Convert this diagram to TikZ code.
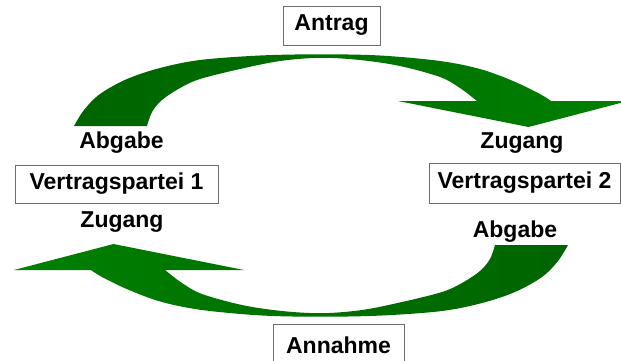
\documentclass[tikz,border=0pt]{standalone}
\usepackage{fontspec}
\setmainfont{Liberation Sans}
\definecolor{arrowdark}{RGB}{0,100,0}
\definecolor{arrowlight}{RGB}{0,128,0}
\definecolor{boxline}{RGB}{110,110,110}

% Curved block arrow (upper one); the lower arrow is the same outline turned by 180 degrees
\newcommand\curvedarrowpath{%
  plot[smooth, tension=0.55] coordinates {
    (74,126) (84,110) (100,94) (127,79) (160,68) (200,60) (260,55.5)
    (320,54.3) (380,55.5) (440,61) (480,69) (513,81) (540,94) (551,101)}
  -- (628,101) -- (528.5,127) -- (398,101)
  -- plot[smooth, tension=0.55] coordinates {
    (477,101) (460,88) (440,77) (400,66) (360,60) (320,57.8) (280,61)
    (240,69) (200,79) (180,88) (162,100) (152,112) (147,126)}
  -- cycle}

\begin{document}
\begin{tikzpicture}[x=1pt, y=-1pt,
  lbl/.style={font=\fontsize{23}{27}\selectfont\bfseries, inner sep=0pt},
  partybox/.style={lbl, draw=boxline, line width=1pt, fill=white},
]
\useasboundingbox (0,0) rectangle (621,360);
\clip (0,0) rectangle (621,360);

% arrows
\shade[left color=arrowdark, right color=arrowlight] \curvedarrowpath;
\shade[rotate around={180:(321,185.5)}, left color=arrowlight, right color=arrowdark] \curvedarrowpath;

% boxes
\node[partybox, minimum width=97pt, minimum height=39pt] (antrag) at (331.5,25.5) {Antrag};
\node[partybox, minimum width=131pt, minimum height=43pt] (annahme) at (338.5,345.5) {Annahme};
\node[partybox, minimum width=203pt, minimum height=38pt] (vp1) at (116.5,184) {Vertragspartei 1};
\node[partybox, minimum width=191pt, minimum height=40pt] (vp2) at (524.5,183) {Vertragspartei 2};

% labels
\node[lbl] (abgabe1) at (121.5,142.5) {Abgabe};
\node[lbl] (zugang1) at (522,143) {Zugang};
\node[lbl] (zugang2) at (122,222.5) {Zugang};
\node[lbl] (abgabe2) at (515,232) {Abgabe};
\end{tikzpicture}
\end{document}
